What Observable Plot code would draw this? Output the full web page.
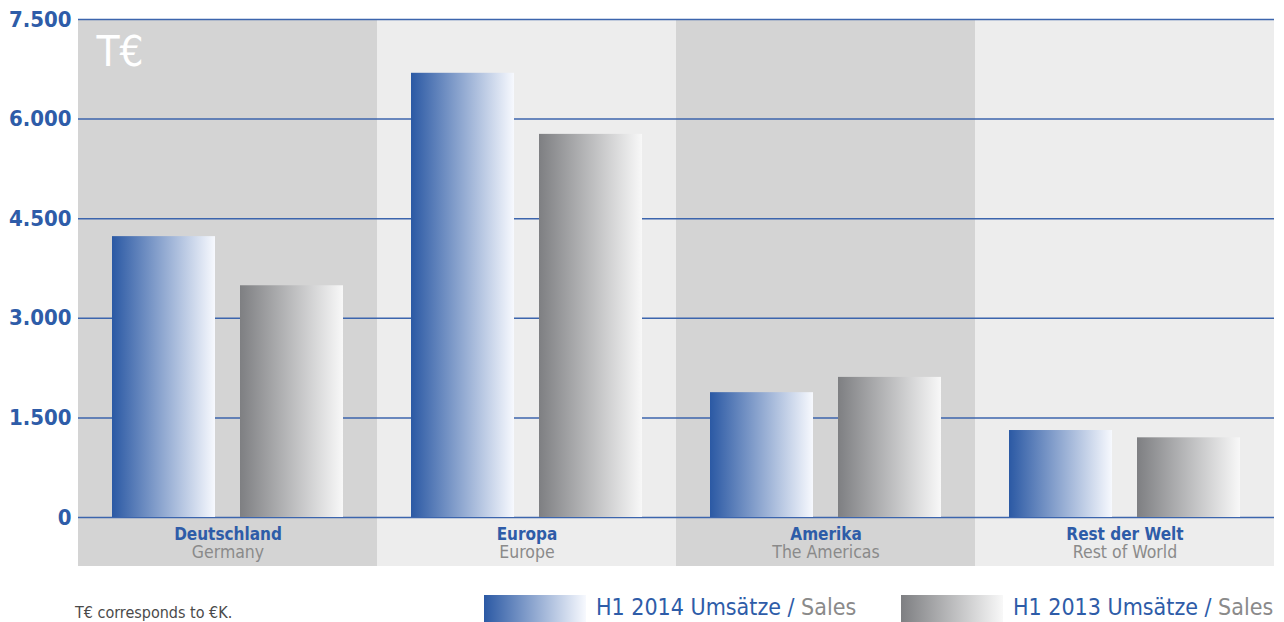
<!DOCTYPE html>
<html>
<head>
<meta charset="utf-8">
<script src="https://cdn.jsdelivr.net/npm/d3@7"></script>
<script src="https://cdn.jsdelivr.net/npm/@observablehq/plot@0.6"></script>
<style>
  html, body { margin: 0; padding: 0; background: #fff; }
  body { width: 1284px; height: 622px; overflow: hidden; font-family: "DejaVu Sans Condensed", "DejaVu Sans", sans-serif; }
  #legend { position: relative; width: 1284px; height: 48px; }
  #legend .foot { position: absolute; left: 75px; top: 29px; font-size: 16px; color: #4a4a4a; }
  #legend .sw { position: absolute; top: 21px; width: 102px; height: 27px; }
  #legend .lt { position: absolute; top: 20px; font-size: 23px; color: #2e5ca8; white-space: nowrap; }
  #legend .lt span { color: #8a8a8a; }
</style>
</head>
<body>
<div id="chart"></div>
<div id="legend"></div>
<script>
// ---- data ----
const regionsDe = ["Deutschland", "Europa", "Amerika", "Rest der Welt"];
const regionsEn = ["Germany", "Europe", "The Americas", "Rest of World"];
const years = ["2014", "2013"];
const sales2014 = [4230, 6690, 1880, 1310];
const sales2013 = [3490, 5770, 2110, 1200];
const yTicks = [0, 1500, 3000, 4500, 6000, 7500];
const unitLabel = "T€";
const footnote = "T€ corresponds to €K.";
const legendPrefix = "H1";
const legendDe = "Umsätze";
const legendEn = "Sales";

// ---- styles ----
const blue = "#2e5ca8";
const panelFills = ["#d4d4d4", "#ededed", "#d4d4d4", "#ededed"];
const gradStops = {
  "2014": ["#2b59a4", "#f7f9fe"],
  "2013": ["#7e7f82", "#f8f8f8"]
};

const panels = regionsDe.map((de, i) => ({de, en: regionsEn[i], bg: panelFills[i]}));
const rows = [];
regionsDe.forEach((de, i) => {
  rows.push({region: de, year: "2014", value: sales2014[i]});
  rows.push({region: de, year: "2013", value: sales2013[i]});
});

const fmt = d3.formatLocale({decimal: ",", thousands: ".", grouping: [3], currency: ["", "€"]}).format(",");
const yMax = yTicks[yTicks.length - 1];
const fontFam = '"DejaVu Sans Condensed", "DejaVu Sans", sans-serif';

const chart = Plot.plot({
  width: 1284,
  height: 574,
  marginLeft: 78,
  marginRight: 10,
  marginTop: 19,
  marginBottom: 57,
  style: {fontFamily: fontFam, fontSize: "22px", color: blue, fontWeight: "bold", background: "transparent", overflow: "visible"},
  fx: {domain: regionsDe, paddingInner: 0, paddingOuter: 0, axis: null},
  x: {domain: years, paddingInner: 0.195, paddingOuter: 0.265, axis: null},
  y: {domain: [0, yMax], ticks: yTicks, tickFormat: fmt, tickSize: 0, tickPadding: 7, label: null},
  color: {type: "identity"},
  marks: [
    Plot.barY(panels, {fx: "de", y1: 0, y2: yMax, fill: "bg", insetBottom: -49}),
    Plot.ruleY(yTicks, {stroke: "#3c65ad", strokeWidth: 1.5}),
    Plot.barY(rows, {fx: "region", x: "year", y: "value", fill: d => `url(#grad${d.year})`}),
    Plot.text(panels, {fx: "de", text: "de", frameAnchor: "bottom", lineAnchor: "middle", dy: 17, fill: blue, fontSize: 17, fontWeight: "bold"}),
    Plot.text(panels, {fx: "de", text: "en", frameAnchor: "bottom", lineAnchor: "middle", dy: 35, fill: "#8a8a8a", fontSize: 17.5, fontWeight: "normal"}),
    Plot.text([panels[0]], {fx: "de", text: () => unitLabel, frameAnchor: "top-left", lineAnchor: "middle", textAnchor: "start", dx: 18, dy: 33, fill: "#ffffff", fontSize: 42, fontWeight: "normal"})
  ]
});

// gradients
const svg = d3.select(chart);
const defs = svg.insert("defs", ":first-child");
for (const y of years) {
  const g = defs.append("linearGradient").attr("id", `grad${y}`).attr("x1", "0").attr("x2", "1").attr("y1", "0").attr("y2", "0");
  g.append("stop").attr("offset", "0%").attr("stop-color", gradStops[y][0]);
  g.append("stop").attr("offset", "100%").attr("stop-color", gradStops[y][1]);
}
document.getElementById("chart").appendChild(chart);

// legend + footnote
const legend = d3.select("#legend");
legend.append("div").attr("class", "foot").text(footnote);
const legendX = [{sw: 484, tx: 596}, {sw: 901, tx: 1013}];
years.forEach((y, i) => {
  legend.append("div").attr("class", "sw").style("left", legendX[i].sw + "px")
    .style("background", `linear-gradient(to right, ${gradStops[y][0]}, ${gradStops[y][1]})`);
  const t = legend.append("div").attr("class", "lt").style("left", legendX[i].tx + "px");
  t.append("tspan").text(`${legendPrefix} ${y} ${legendDe} / `);
  t.append("span").text(legendEn);
});
</script>
</body>
</html>
